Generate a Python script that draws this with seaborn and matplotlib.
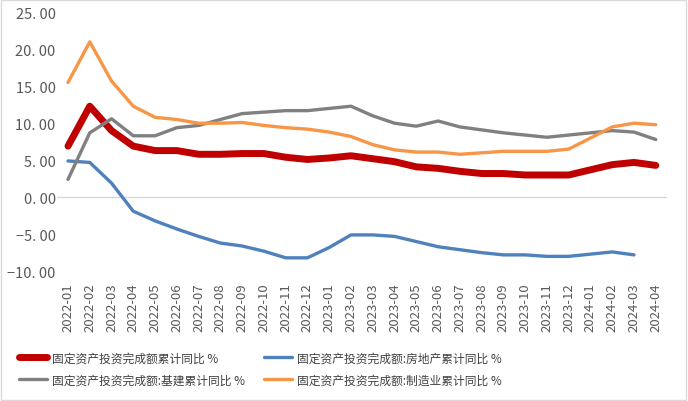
import seaborn as sns
import pandas as pd
import numpy as np
import matplotlib.pyplot as plt
from matplotlib.patches import Rectangle

months = ["2022-01", "2022-02", "2022-03", "2022-04", "2022-05", "2022-06", "2022-07",
          "2022-08", "2022-09", "2022-10", "2022-11", "2022-12", "2023-01", "2023-02",
          "2023-03", "2023-04", "2023-05", "2023-06", "2023-07", "2023-08", "2023-09",
          "2023-10", "2023-11", "2023-12", "2024-01", "2024-02", "2024-03", "2024-04"]

total = [6.9, 12.3, 9.0, 6.9, 6.3, 6.3, 5.8, 5.8, 5.9, 5.9, 5.4, 5.1, 5.3, 5.6,
         5.2, 4.8, 4.1, 3.9, 3.5, 3.2, 3.2, 3.0, 3.0, 3.0, 3.7, 4.4, 4.7, 4.3]
realestate = [4.9, 4.7, 1.9, -1.9, -3.2, -4.3, -5.3, -6.2, -6.6, -7.3, -8.2, -8.2, -6.8, -5.1,
              -5.1, -5.3, -6.0, -6.7, -7.1, -7.5, -7.8, -7.8, -8.0, -8.0, -7.7, -7.4, -7.8, np.nan]
infra = [2.4, 8.7, 10.6, 8.3, 8.3, 9.4, 9.7, 10.5, 11.3, 11.5, 11.7, 11.7, 12.0, 12.3,
         11.0, 10.0, 9.6, 10.3, 9.5, 9.1, 8.7, 8.4, 8.1, 8.4, 8.7, 9.0, 8.8, 7.8]
manuf = [15.5, 21.0, 15.7, 12.3, 10.8, 10.5, 10.0, 10.0, 10.1, 9.7, 9.4, 9.2, 8.8, 8.2,
         7.1, 6.4, 6.1, 6.1, 5.8, 6.0, 6.2, 6.2, 6.2, 6.5, 8.0, 9.5, 10.0, 9.8]

names = ["固定资产投资完成额累计同比 %",
         "固定资产投资完成额:房地产累计同比 %",
         "固定资产投资完成额:基建累计同比 %",
         "固定资产投资完成额:制造业累计同比 %"]
colors = ["#C00000", "#4F81BD", "#808080", "#F79646"]
widths = [5.0, 2.4, 2.4, 2.4]

df = pd.DataFrame({"idx": np.arange(len(months)), names[0]: total, names[1]: realestate,
                   names[2]: infra, names[3]: manuf})
long_df = df.melt(id_vars="idx", var_name="series", value_name="value").dropna()

sns.set_style("white")
plt.rcParams['font.family'] = ['Noto Sans CJK SC', 'DejaVu Sans']

fig = plt.figure(figsize=(6.88, 4.02), dpi=100)
ax = fig.add_axes([0.083, 0.323, 0.886, 0.644])

ax.axhline(0, color="#d9d9d9", lw=1, zorder=0)
for name, c, w in zip(names, colors, widths):
    sub = long_df[long_df.series == name]
    sns.lineplot(data=sub, x="idx", y="value", color=c, linewidth=w, ax=ax, label=name,
                 solid_capstyle="round", solid_joinstyle="round")

ax.set_xlim(-0.5, len(months) - 0.5)
ax.set_ylim(-10, 25)
yt = np.arange(-10, 26, 5)
ax.set_yticks(yt)
ax.set_yticklabels([f"{v:.2f}".replace(".", ". ").replace("-", "\u2212") for v in yt],
                   color="#595959", fontsize=10.5)
ax.set_xticks(np.arange(len(months)))
ax.set_xticklabels(months, rotation=90, color="#595959", fontsize=9.5)
ax.tick_params(axis="both", length=0)
ax.tick_params(axis="x", pad=8)
ax.tick_params(axis="y", pad=1)
ax.set_xlabel("")
ax.set_ylabel("")
for s in ax.spines.values():
    s.set_visible(False)

h, l = ax.get_legend_handles_labels()
ax.get_legend().remove()
order = [0, 2, 1, 3]
fig.legend([h[i] for i in order], [l[i] for i in order], ncol=2, loc="upper left",
           bbox_to_anchor=(0.012, 0.15), frameon=False, fontsize=8.5,
           handlelength=2.4, handletextpad=0.4, columnspacing=1.6, labelspacing=0.75,
           labelcolor="#404040")

fig.patches.append(Rectangle((0.002, 0.003), 0.995, 0.994, transform=fig.transFigure,
                             fill=False, edgecolor="#d9d9d9", lw=1))

fig.savefig("out.png", dpi=100)
